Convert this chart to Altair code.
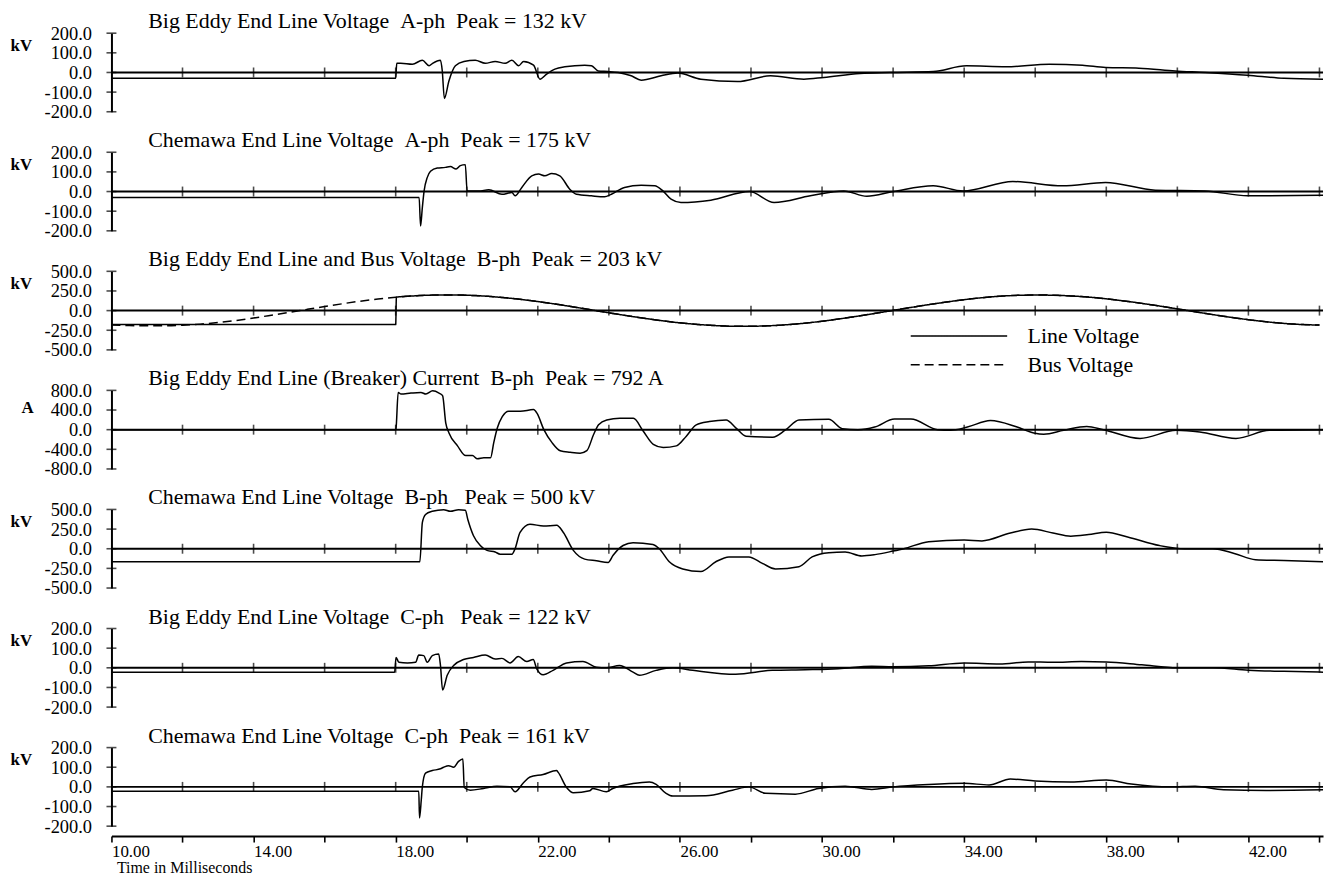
import altair as alt
import pandas as pd

FONT = "Liberation Serif"
X_DOMAIN = [10, 44.1]
PLOT_W = 1218
PLOT_H = 79

ZERO_TICKS = [12, 14, 16, 18, 20, 22, 24, 26, 28, 30, 32, 34, 36, 38, 40, 42, 44]
AXIS_TICKS = [10, 12, 14, 16, 18, 20, 22, 24, 26, 28, 30, 32, 34, 36, 38, 40, 42, 44]

titles = [
    "Big Eddy End Line Voltage \u00a0A-ph \u00a0Peak = 132 kV",
    "Chemawa End Line Voltage \u00a0A-ph \u00a0Peak = 175 kV",
    "Big Eddy End Line and Bus Voltage \u00a0B-ph \u00a0Peak = 203 kV",
    "Big Eddy End Line (Breaker) Current \u00a0B-ph \u00a0Peak = 792 A",
    "Chemawa End Line Voltage \u00a0B-ph \u00a0\u00a0Peak = 500 kV",
    "Big Eddy End Line Voltage \u00a0C-ph \u00a0\u00a0Peak = 122 kV",
    "Chemawa End Line Voltage \u00a0C-ph \u00a0Peak = 161 kV",
]
units = ["kV", "kV", "kV", "A", "kV", "kV", "kV"]
y_ticks_200 = [200, 100, 0, -100, -200]
y_ticks_500 = [500, 250, 0, -250, -500]
y_ticks_800 = [800, 400, 0, -400, -800]

# Panel 1: Big Eddy A-ph
p1_t = [10.0, 18.0, 18.03, 18.14, 18.47, 18.75, 18.94, 19.03, 19.26, 19.31, 19.37, 19.5, 19.68, 19.92,
        20.24, 20.52, 20.8, 21.08, 21.27, 21.46, 21.6, 21.88, 22.06, 22.25, 22.48, 22.76, 23.32, 23.51,
        23.7, 23.98, 24.26, 24.63, 24.91, 25.47, 25.94, 26.59, 27.62, 28.55, 29.49, 30.05, 31.07, 31.91,
        33.13, 34.06, 35.18, 36.4, 37.33, 37.98, 38.92, 39.94, 40.78, 41.98, 43.0, 44.1]
p1_v = [-30, -30, 47, 47, 42, 62, 34, 45, 62, 10, -132, -42, 34, 56,
        62, 47, 56, 47, 62, 34, 56, 37, -34, -8, 17, 29, 37, 34,
        8, 5, 0, -17, -39, -17, -3, -34, -46, -17, -34, -25, -5, 0,
        5, 34, 29, 42, 37, 25, 22, 8, 0, -14, -30, -34]

# Panel 2: Chemawa A-ph
p2_t = [10.0, 18.66, 18.7, 18.75, 18.8, 18.89, 18.98, 19.17, 19.4, 19.54, 19.7, 19.82, 19.96, 20.01,
        20.34, 20.62, 20.99, 21.27, 21.36, 21.55, 21.83, 22.02, 22.2, 22.39, 22.62, 22.9, 23.09, 23.51,
        23.88, 24.07, 24.44, 24.91, 25.29, 25.52, 25.75, 26.03, 26.87, 27.96, 28.65, 29.67, 30.61, 31.26,
        32.01, 33.13, 33.97, 35.37, 36.77, 37.98, 39.38, 40.78, 41.98, 44.1]
p2_v = [-30, -30, -176, -82, 3, 72, 103, 120, 123, 127, 115, 132, 137, 3,
        3, 9, -14, -5, -22, 21, 80, 89, 80, 92, 80, 12, -14, -22,
        -27, -14, 21, 32, 29, 3, -39, -56, -44, 0, -56, -22, 3, -24,
        0, 29, 3, 51, 29, 46, 7, 3, -22, -19]

# Panel 3: Big Eddy B-ph line and bus voltage
p3_bus_t = [10.0, 10.5, 11.0, 11.5, 12.0, 12.5, 13.0, 13.5, 14.0, 14.5, 15.0, 15.5, 16.0, 16.5, 17.0,
            17.5, 18.0, 18.5, 19.0, 19.5, 20.0, 20.5, 21.0, 21.5, 22.0, 22.5, 23.0, 23.5, 24.0, 24.5,
            25.0, 25.5, 26.0, 26.5, 27.0, 27.5, 28.0, 28.5, 29.0, 29.5, 30.0, 30.5, 31.0, 31.5, 32.0,
            32.5, 33.0, 33.5, 34.0, 34.5, 35.0, 35.5, 36.0, 36.5, 37.0, 37.5, 38.0, 38.5, 39.0, 39.5,
            40.0, 40.5, 41.0, 41.5, 42.0, 42.5, 43.0, 43.5, 44.0]
p3_bus_v = [-182, -190, -194, -193, -186, -172, -152, -126, -94, -59,
            -23, 15, 52, 87, 120, 147, 170, 187, 197, 200,
            196, 185, 167, 144, 115, 83, 47, 10, -28, -64,
            -98, -129, -156, -176, -191, -199, -199, -193, -180, -161,
            -135, -105, -71, -35, 3, 40, 76, 109, 139, 164,
            183, 194, 198, 196, 187, 172, 150, 123, 92, 58,
            22, -15, -51, -85, -116, -142, -163, -177, -184]
p3_line_t = [10.0, 18.0, 18.02] + p3_bus_t[17:]
p3_line_v = [-178, -178, 171] + p3_bus_v[17:]

# Panel 4: Big Eddy breaker current B-ph
p4_t = [10.0, 18.0, 18.01, 18.07, 18.15, 18.43, 18.71, 18.85, 19.04, 19.22, 19.32, 19.41, 19.5, 19.74,
        19.97, 20.16, 20.3, 20.48, 20.67, 20.76, 20.86, 21.0, 21.18, 21.51, 21.88, 21.98, 22.17, 22.4,
        22.63, 22.91, 23.19, 23.38, 23.57, 23.71, 23.94, 24.31, 24.69, 24.97, 25.25, 25.53, 25.9, 26.18,
        26.46, 26.83, 27.3, 27.58, 27.86, 28.61, 28.98, 29.35, 30.19, 30.57, 31.01, 31.48, 32.04, 32.5,
        33.25, 33.62, 34.09, 34.74, 35.49, 35.96, 36.24, 36.8, 37.45, 37.92, 38.95, 39.97, 40.63, 41.65,
        42.59, 44.1]
p4_v = [0, 0, 30, 758, 725, 745, 758, 725, 791, 745, 692, 132, -66, -330,
        -527, -527, -593, -573, -573, -264, 33, 264, 376, 376, 409, 330, 0, -264,
        -428, -461, -481, -428, -99, 99, 198, 231, 231, -33, -297, -362, -330, -132,
        99, 165, 198, 33, -132, -152, 0, 198, 211, 20, 0, 53, 217, 217,
        0, -13, 53, 185, 53, -66, -92, -13, 66, 0, -178, -13, -46, -178,
        -13, 0]

# Panel 5: Chemawa B-ph
p5_t = [10.0, 18.68, 18.75, 18.84, 19.03, 19.35, 19.54, 19.77, 19.96, 20.03, 20.19, 20.38, 20.57, 20.8,
        20.94, 21.27, 21.36, 21.5, 21.78, 22.16, 22.53, 22.72, 23.0, 23.32, 23.65, 23.98, 24.12, 24.4,
        24.68, 25.24, 25.42, 25.7, 26.08, 26.59, 27.01, 27.38, 27.94, 28.32, 28.69, 29.35, 29.72, 30.19,
        30.65, 31.12, 31.49, 32.0, 32.3, 33.0, 34.0, 34.5, 35.3, 35.9, 36.5, 37.0, 37.5, 38.0,
        38.6, 39.5, 40.2, 41.0, 41.6, 42.2, 43.0, 44.1]
p5_v = [-166, -166, 331, 435, 476, 497, 476, 497, 489, 373, 166, 41, -21, -41,
        -70, -70, 0, 207, 311, 290, 298, 207, -21, -132, -153, -174, -83, 41,
        75, 54, 0, -166, -257, -290, -166, -104, -104, -186, -257, -228, -104, -50,
        -41, -91, -75, -30, 0, 90, 110, 100, 200, 250, 200, 160, 180, 210,
        150, 40, 0, 0, -60, -140, -150, -165]

# Panel 6: Big Eddy C-ph
p6_t = [10.0, 17.97, 18.01, 18.09, 18.33, 18.56, 18.65, 18.79, 18.89, 19.03, 19.21, 19.26, 19.32, 19.45,
        19.63, 19.91, 20.19, 20.52, 20.8, 20.99, 21.22, 21.45, 21.69, 21.87, 21.97, 22.15, 22.43, 22.81,
        23.27, 23.65, 23.93, 24.3, 24.68, 24.86, 25.33, 25.8, 26.36, 27.57, 28.6, 29.53, 30.46, 31.4,
        32.0, 33.0, 34.0, 35.0, 35.8, 36.5, 37.3, 38.0, 39.0, 40.0, 41.0, 42.0, 43.0, 44.1]
p6_v = [-22, -22, 53, 28, 25, 28, 65, 62, 28, 62, 70, 12, -113, -38,
        12, 42, 53, 65, 45, 48, 25, 57, 32, 42, -5, -35, -13, 25,
        32, 3, 0, 12, -22, -38, -13, 0, -13, -33, -13, -10, -5, 8,
        5, 10, 25, 20, 30, 28, 32, 30, 15, 0, 0, -12, -18, -22]

# Panel 7: Chemawa C-ph
p7_t = [10.0, 18.65, 18.67, 18.72, 18.75, 18.84, 19.03, 19.26, 19.35, 19.49, 19.63, 19.77, 19.89, 19.93,
        20.1, 20.47, 20.85, 21.22, 21.36, 21.59, 21.78, 22.15, 22.53, 22.57, 22.81, 23.0, 23.46, 23.55,
        23.93, 24.11, 24.68, 25.14, 25.33, 25.61, 25.8, 26.73, 27.48, 27.94, 28.41, 29.25, 29.9, 30.65,
        31.4, 32.0, 33.0, 34.0, 34.7, 35.3, 36.0, 37.0, 38.0, 38.7, 39.8, 40.5, 41.3, 42.5, 44.1]
p7_v = [-22, -22, -158, -67, 0, 70, 83, 92, 100, 108, 100, 130, 142, -3,
        -17, -8, 3, 0, -25, 20, 50, 63, 83, 75, -3, -30, -20, -8,
        -25, -8, 17, 25, 13, -33, -47, -45, -17, 0, -33, -37, -8, 3,
        -13, 0, 12, 18, 10, 40, 30, 25, 35, 15, 0, 3, -15, -18, -15]

SERIES = ["Line Voltage", "Bus Voltage"]


def make_panel(idx, df, y_domain, y_ticks, unit_x, unit_y, bottom=False, dashed=False):
    xs = alt.Scale(domain=X_DOMAIN, nice=False, zero=False)
    ys = alt.Scale(domain=y_domain, nice=False, zero=False)
    if bottom:
        x_axis = alt.Axis(
            values=AXIS_TICKS,
            labelExpr="datum.value % 4 == 2 ? datum.value + '.00' : ''",
            offset=10, domainColor="black", domainWidth=2,
            tickColor="black", tickWidth=1.6, tickSize=6,
            labelAlign="left", labelBaseline="top", labelPadding=1,
            labelFlush=False, labelOverlap=False,
            labelFont=FONT, labelFontSize=17, labelColor="black", grid=False,
            title="Time in Milliseconds", titleFont=FONT, titleFontSize=16,
            titleFontWeight="normal", titleColor="black",
            titleX=5, titleY=37, titleAlign="left", titleBaseline="alphabetic",
        )
    else:
        x_axis = None
    y_axis = alt.Axis(
        values=y_ticks, labelExpr="datum.value + '.0'", ticks=False,
        domainColor="black", domainWidth=2, labelPadding=20,
        labelFont=FONT, labelFontSize=18.5, labelColor="black", grid=False,
        title=units[idx], titleAngle=0, titleX=unit_x, titleY=unit_y,
        titleAlign="left", titleBaseline="middle", titleFont=FONT,
        titleFontSize=17, titleFontWeight="bold", titleColor="black",
    )
    X = alt.X("t:Q", scale=xs, axis=x_axis)
    Y = alt.Y("v:Q", scale=ys, axis=y_axis)
    enc = dict(x=X, y=Y)
    if dashed:
        enc["strokeDash"] = alt.StrokeDash(
            "s:N",
            scale=alt.Scale(domain=SERIES, range=[[1, 0], [9, 5]]),
            sort=SERIES,
            legend=alt.Legend(
                orient="none", legendX=841, legendY=54, title=None,
                direction="vertical", symbolType="M-5,0H5", symbolSize=376,
                symbolStrokeWidth=1.4, symbolStrokeColor="black",
                labelFont=FONT, labelFontSize=22, labelColor="black",
                labelOffset=58, rowPadding=7, padding=0, labelLimit=300,
            ),
        )
    line = alt.Chart(df).mark_line(color="black", strokeWidth=1.5, interpolate="monotone").encode(**enc)

    zero_df = pd.DataFrame({"v": [0]})
    zero = alt.Chart(zero_df).mark_rule(color="black", strokeWidth=2).encode(y=Y)
    zt_df = pd.DataFrame({"t": ZERO_TICKS, "v": [0] * len(ZERO_TICKS)})
    zticks = alt.Chart(zt_df).mark_tick(orient="vertical", size=10, thickness=1.6, color="black").encode(
        x=X, y=Y)
    yt_df = pd.DataFrame({"t": [10] * len(y_ticks), "v": y_ticks})
    yticks = alt.Chart(yt_df).mark_tick(orient="horizontal", size=10, thickness=1.6, color="black").encode(
        x=X, y=Y)

    return alt.layer(line, zero, zticks, yticks).properties(
        width=PLOT_W, height=PLOT_H,
        title=alt.TitleParams(
            text=titles[idx], anchor="start", frame="group", dx=37, offset=-9,
            font=FONT, fontSize=22, fontWeight="normal", color="black",
        ),
    )


df1 = pd.DataFrame({"t": p1_t, "v": p1_v})
df2 = pd.DataFrame({"t": p2_t, "v": p2_v})
df3 = pd.concat([
    pd.DataFrame({"t": p3_line_t, "v": p3_line_v, "s": "Line Voltage"}),
    pd.DataFrame({"t": p3_bus_t, "v": p3_bus_v, "s": "Bus Voltage"}),
], ignore_index=True)
df4 = pd.DataFrame({"t": p4_t, "v": p4_v})
df5 = pd.DataFrame({"t": p5_t, "v": p5_v})
df6 = pd.DataFrame({"t": p6_t, "v": p6_v})
df7 = pd.DataFrame({"t": p7_t, "v": p7_v})

panels = [
    make_panel(0, df1, [-200, 200], y_ticks_200, -102, 12),
    make_panel(1, df2, [-200, 200], y_ticks_200, -102, 12),
    make_panel(2, df3, [-500, 500], y_ticks_500, -102, 12, dashed=True),
    make_panel(3, df4, [-800, 800], y_ticks_800, -91, 17),
    make_panel(4, df5, [-500, 500], y_ticks_500, -102, 12),
    make_panel(5, df6, [-200, 200], y_ticks_200, -102, 12),
    make_panel(6, df7, [-200, 200], y_ticks_200, -102, 12, bottom=True),
]

chart = alt.vconcat(*panels, spacing=40.7, bounds="flush").resolve_scale(
    x="independent", y="independent", strokeDash="independent"
).resolve_legend(strokeDash="independent").properties(
    padding={"left": 2, "top": 0, "right": 0, "bottom": 0}
).configure_view(strokeWidth=0)

chart.save("out.html", embed_options={"renderer": "svg", "actions": False})
